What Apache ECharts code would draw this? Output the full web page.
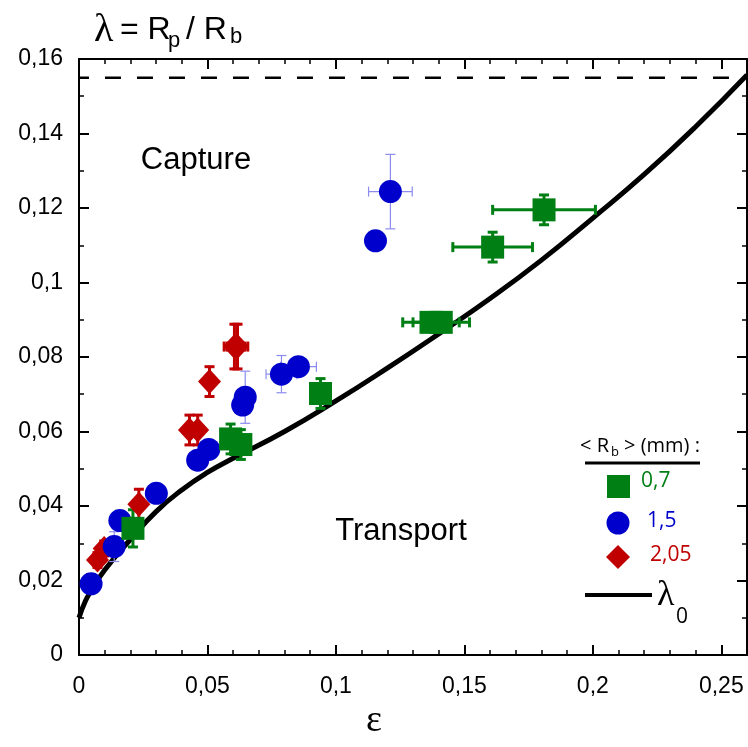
<!DOCTYPE html>
<html><head><meta charset="utf-8">
<script src="https://cdn.jsdelivr.net/npm/echarts@6/dist/echarts.min.js"></script>
<style>html,body{margin:0;padding:0;background:#fff}#c{width:748px;height:747px}</style>
</head><body><div id="c"></div>
<script>
// ---- data ----
const greenX    = [0.021, 0.059, 0.063, 0.094, 0.137, 0.141, 0.161, 0.181];
const greenY    = [0.034, 0.058, 0.0565, 0.0702, 0.0893, 0.0893, 0.1095, 0.1195];
const greenXErr = [0, 0, 0, 0, 0.011, 0.011, 0.0155, 0.020];
const greenYErr = [0.005, 0.004, 0.004, 0.004, 0, 0, 0.004, 0.004];

const blueX    = [0.0047, 0.0137, 0.0159, 0.0301, 0.0462, 0.0505, 0.0637, 0.0647, 0.0788, 0.0854, 0.1154, 0.1212];
const blueY    = [0.0191, 0.0291, 0.0361, 0.0434, 0.0523, 0.0552, 0.0671, 0.0692, 0.0754, 0.0774, 0.1112, 0.1244];
const blueXErr = [0, 0, 0, 0, 0, 0, 0, 0, 0.006, 0.007, 0, 0.0085];
const blueYErr = [0, 0.004, 0, 0, 0, 0, 0, 0.007, 0.005, 0, 0, 0.010];

const redX    = [0.0072, 0.0098, 0.0233, 0.043, 0.0462, 0.0508, 0.0605, 0.0617];
const redY    = [0.0255, 0.0286, 0.0405, 0.0604, 0.0604, 0.0734, 0.0828, 0.0828];
const redXErr = [0, 0, 0, 0, 0, 0, 0.004, 0.004];
const redYErr = [0.002, 0.002, 0.004, 0.004, 0.004, 0.004, 0.006, 0.006];

const curveX = [0, 0.0025, 0.005, 0.01, 0.02, 0.03, 0.04, 0.05, 0.06, 0.08, 0.1, 0.12, 0.14, 0.16, 0.18, 0.2, 0.22, 0.24, 0.26];
const curveY = [0.010, 0.0145, 0.0175, 0.0228, 0.031, 0.0385, 0.0443, 0.0490, 0.0528, 0.0600, 0.0682, 0.0770, 0.0862, 0.0957, 0.1060, 0.1173, 0.1290, 0.1418, 0.1557];

const limitY = 0.155;
const xMin = 0, xMax = 0.26, xStep = 0.05;
const yMin = 0, yMax = 0.16, yStep = 0.02;

// ---- styling ----
const GREEN = '#007f14', BLUE = '#0000cc', RED = '#c00000', LBLUE = '#8c8cf0';
const FONT = 'Liberation Sans';
const fmt = v => String(+v.toFixed(4)).replace('.', ',');

function zip(a, b, c, d) { return a.map((v, i) => [v, b[i], c ? c[i] : 0, d ? d[i] : 0]); }

function errRender(color, lw, cap) {
  return function (params, api) {
    const x = api.value(0), y = api.value(1), ex = api.value(2), ey = api.value(3);
    const c = api.coord([x, y]);
    const ch = [];
    const st = { stroke: color, lineWidth: lw };
    const L = (x1, y1, x2, y2) => ({ type: 'line', shape: { x1, y1, x2, y2 }, style: st });
    if (ey > 0) {
      const t = api.coord([x, y + ey])[1], b = api.coord([x, y - ey])[1];
      ch.push(L(c[0], t, c[0], b), L(c[0] - cap, t, c[0] + cap, t), L(c[0] - cap, b, c[0] + cap, b));
    }
    if (ex > 0) {
      const l = api.coord([x - ex, y])[0], r = api.coord([x + ex, y])[0];
      ch.push(L(l, c[1], r, c[1]), L(l, c[1] - cap, l, c[1] + cap), L(r, c[1] - cap, r, c[1] + cap));
    }
    return { type: 'group', children: ch };
  };
}

const chart = echarts.init(document.getElementById('c'), null, { renderer: 'canvas' });

const axisCommon = {
  axisLine: { show: true, onZero: false, lineStyle: { color: '#000', width: 2 } },
  axisTick: { show: true, inside: true, length: 10, lineStyle: { color: '#000', width: 2 } },
  splitLine: { show: false }
};
const minorX = { minorTick: { show: true, splitNumber: 5, length: 5, lineStyle: { color: '#000', width: 1.5 } } };
const minorY = { minorTick: { show: true, splitNumber: 2, length: 5, lineStyle: { color: '#000', width: 1.5 } } };

const option = {
  animation: false,
  backgroundColor: '#fff',
  grid: { left: 79, top: 59, width: 668, height: 596, containLabel: false },
  xAxis: [
    Object.assign({ type: 'value', min: xMin, max: xMax, interval: xStep, position: 'bottom',
      axisLabel: { formatter: fmt, fontFamily: FONT, fontSize: 23, color: '#000', margin: 20, showMaxLabel: false } }, axisCommon, minorX),
    Object.assign({ type: 'value', min: xMin, max: xMax, interval: xStep, position: 'top',
      axisLabel: { show: false } }, axisCommon, minorX)
  ],
  yAxis: [
    Object.assign({ type: 'value', min: yMin, max: yMax, interval: yStep, position: 'left',
      axisLabel: { formatter: fmt, fontFamily: FONT, fontSize: 23, color: '#000', margin: 16 } }, axisCommon, minorY),
    Object.assign({ type: 'value', min: yMin, max: yMax, interval: yStep, position: 'right',
      axisLabel: { show: false } }, axisCommon, minorY)
  ],
  series: [
    { type: 'line', data: [[xMin, limitY], [xMax, limitY]], symbol: 'none', silent: true, z: 2,
      lineStyle: { color: '#000', width: 2.5, type: [16, 16], dashOffset: 6 } },
    { type: 'line', data: curveX.map((v, i) => [v, curveY[i]]), symbol: 'none', smooth: 0.5, z: 3, clip: true,
      lineStyle: { color: '#000', width: 5 } },
    { type: 'custom', renderItem: errRender(RED, 3, 5), data: zip(redX, redY, redXErr, redYErr), encode: { x: 0, y: 1 }, z: 4 },
    { type: 'custom', renderItem: errRender(LBLUE, 1.2, 5), data: zip(blueX, blueY, blueXErr, blueYErr), encode: { x: 0, y: 1 }, z: 4 },
    { type: 'custom', renderItem: errRender(GREEN, 3, 5), data: zip(greenX, greenY, greenXErr, greenYErr), encode: { x: 0, y: 1 }, z: 4 },
    { type: 'scatter', data: redX.map((v, i) => [v, redY[i]]), symbol: 'diamond', symbolSize: [23, 25], z: 5,
      itemStyle: { color: RED, opacity: 1 } },
    { type: 'scatter', data: blueX.map((v, i) => [v, blueY[i]]), symbol: 'circle', symbolSize: 23, z: 5,
      itemStyle: { color: BLUE, opacity: 1 } },
    { type: 'scatter', data: greenX.map((v, i) => [v, greenY[i]]), symbol: 'rect', symbolSize: 23, z: 5,
      itemStyle: { color: GREEN, opacity: 1 } }
  ],
  graphic: [
    // title lambda = Rp / Rb
    { type: 'text', left: 94, top: 10, style: { text: 'λ', font: '40px "Liberation Serif"', fill: '#000' } },
    { type: 'text', left: 120, top: 14, style: { text: '= R', font: '32px "Liberation Sans"', fill: '#000' } },
    { type: 'text', left: 168, top: 30, style: { text: 'p', font: '22px "Liberation Sans"', fill: '#000' } },
    { type: 'text', left: 186, top: 14, style: { text: '/ R', font: '32px "Liberation Sans"', fill: '#000' } },
    { type: 'text', left: 230, top: 26, style: { text: 'b', font: '22px "Liberation Sans"', fill: '#000' } },
    // region labels
    { type: 'text', x: 196, y: 160, style: { text: 'Capture', font: '31px "Liberation Sans"', fill: '#000', align: 'center', verticalAlign: 'middle' } },
    { type: 'text', x: 401, y: 531, style: { text: 'Transport', font: '31px "Liberation Sans"', fill: '#000', align: 'center', verticalAlign: 'middle' } },
    // x axis name
    { type: 'text', x: 374, y: 721, style: { text: 'ε', font: '38px "Liberation Serif"', fill: '#000', align: 'center', verticalAlign: 'middle' } },
    // legend header
    { type: 'text', left: 580, top: 436, style: { text: '< R', font: '20px "Open Sans"', fill: '#000' } },
    { type: 'text', left: 611, top: 446, style: { text: 'b', font: '13px "Open Sans"', fill: '#000' } },
    { type: 'text', left: 624, top: 436, style: { text: '> (mm) :', font: '20px "Open Sans"', fill: '#000' } },
    { type: 'line', shape: { x1: 585, y1: 463, x2: 700, y2: 463 }, style: { stroke: '#000', lineWidth: 3 } },
    { type: 'rect', shape: { x: 607, y: 475, width: 23, height: 23 }, style: { fill: GREEN } },
    { type: 'text', left: 641, top: 471, style: { text: '0,7', font: '21px "Open Sans"', fill: GREEN } },
    { type: 'circle', shape: { cx: 618, cy: 523, r: 11.5 }, style: { fill: BLUE } },
    { type: 'text', left: 647, top: 511, style: { text: '1,5', font: '21px "Open Sans"', fill: BLUE } },
    { type: 'polygon', shape: { points: [[618, 545], [630, 557], [618, 569], [606, 557]] }, style: { fill: RED } },
    { type: 'text', left: 650, top: 545, style: { text: '2,05', font: '21px "Open Sans"', fill: RED } },
    { type: 'line', shape: { x1: 585, y1: 595, x2: 652, y2: 595 }, style: { stroke: '#000', lineWidth: 4 } },
    { type: 'text', left: 657, top: 578, style: { text: 'λ', font: '36px "Liberation Serif"', fill: '#000' } },
    { type: 'text', left: 676, top: 607, style: { text: '0', font: '21px "Open Sans"', fill: '#000' } }
  ]
};
chart.setOption(option);
</script></body></html>
